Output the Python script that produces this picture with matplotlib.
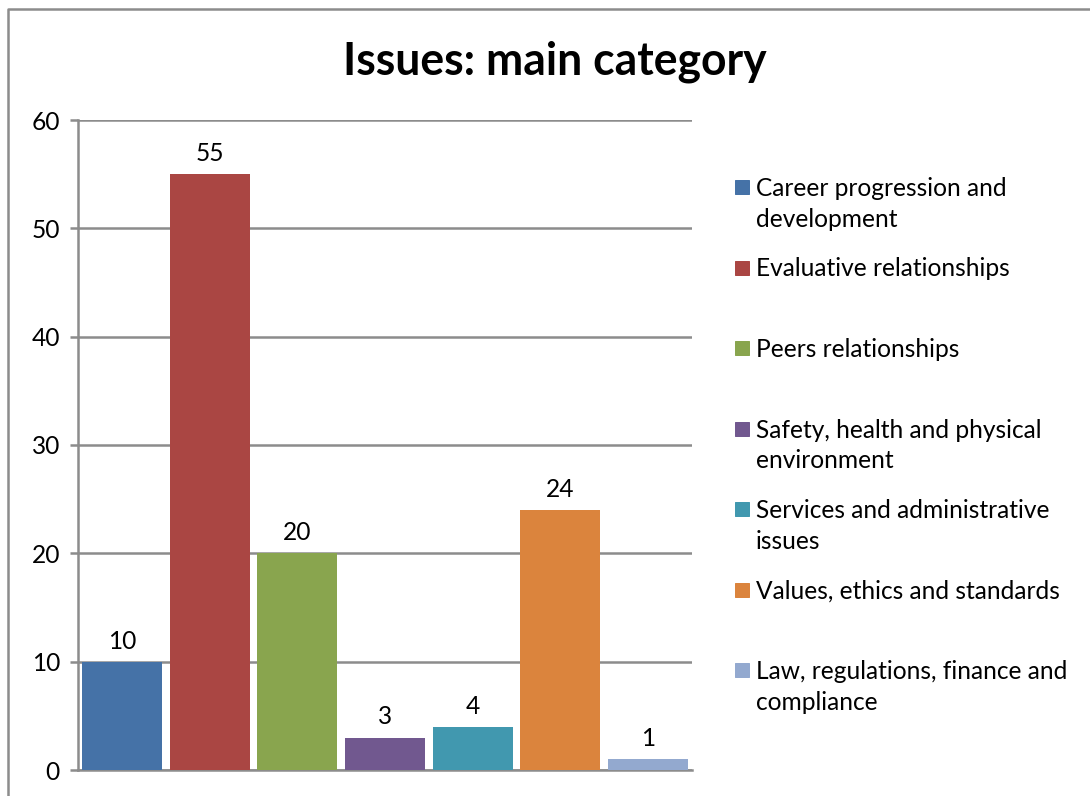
import matplotlib
matplotlib.use("Agg")
import matplotlib.pyplot as plt
from matplotlib.lines import Line2D
from matplotlib.patches import Rectangle

# Issue counts by main category
categories = [
    "Career progression and\ndevelopment",
    "Evaluative relationships",
    "Peers relationships",
    "Safety, health and physical\nenvironment",
    "Services and administrative\nissues",
    "Values, ethics and standards",
    "Law, regulations, finance and\ncompliance",
]
counts = [10, 55, 20, 3, 4, 24, 1]
colors = ["#4572A7", "#AA4643", "#89A54E", "#71588F", "#4198AF", "#DB843D", "#93A9CF"]
yticks = [0, 10, 20, 30, 40, 50, 60]

W, H = 1090, 796
DPI = 72
plt.rcParams["font.family"] = ["Lato", "DejaVu Sans"]

fig = plt.figure(figsize=(W / DPI, H / DPI), dpi=DPI)
ax = fig.add_axes([78 / W, 1 - 770 / H, 614 / W, 650 / H])

grey = "#8c8c8c"
x = list(range(len(counts)))
ax.bar(x, counts, width=0.912, color=colors, zorder=3)
for xi, v in zip(x, counts):
    ax.annotate(str(v), (xi, v), xytext=(0, 9), textcoords="offset points",
                ha="center", va="bottom", fontsize=24.5, color="black")

ax.set_xlim(-0.5, len(counts) - 0.5)
ax.set_ylim(0, 60)
ax.set_yticks(yticks)
ax.set_xticks([])
ax.yaxis.grid(True, color=grey, linewidth=2.5, zorder=0)
ax.tick_params(axis="y", length=8, width=2.5, color=grey, labelsize=24.5, pad=10)
for s in ["top", "right"]:
    ax.spines[s].set_visible(False)
for s in ["left", "bottom"]:
    ax.spines[s].set_color(grey)
    ax.spines[s].set_linewidth(2.5)

fig.text(555 / W, 1 - 62 / H, "Issues: main category", ha="center", va="center",
         fontsize=44.5, fontweight="bold")

# legend entries, one every ~80 px down the right side
for i, (label, c) in enumerate(zip(categories, colors)):
    y = 187 + i * 80.5
    fig.patches.append(Rectangle((735 / W, 1 - (y + 7) / H), 14 / W, 14 / H,
                                 transform=fig.transFigure, color=c))
    fig.text(756 / W, 1 - (y - 10) / H, label, ha="left", va="top",
             fontsize=24.5, linespacing=1.4)

# outer chart border (top and left edges)
fig.add_artist(Line2D([8 / W, 8 / W, 1.0], [0.0, 1 - 9 / H, 1 - 9 / H],
                      transform=fig.transFigure, color=grey, linewidth=2.5))

fig.savefig("out.png", dpi=DPI)
